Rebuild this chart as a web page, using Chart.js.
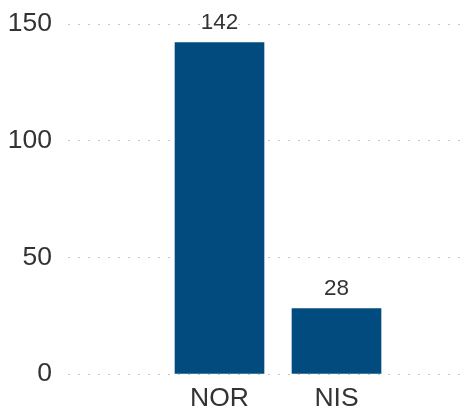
<!DOCTYPE html>
<html>
<head>
<meta charset="utf-8">
<script src="https://cdn.jsdelivr.net/npm/chart.js@4/dist/chart.umd.min.js"></script>
<style>
  html, body { margin: 0; padding: 0; background: #ffffff; }
  #wrap { width: 463px; height: 410px; position: relative; }
</style>
</head>
<body>
<div id="wrap"><canvas id="c" width="463" height="410"></canvas></div>
<script>
const categories = ['NOR', 'NIS'];
const values = [142, 28];
const yTicks = [0, 50, 100, 150];

const barColor = '#024b7e';
const textColor = '#333333';
const fontFamily = '"Liberation Sans", Arial, sans-serif';

const dataLabels = {
  id: 'dataLabels',
  afterDatasetsDraw(chart) {
    const ctx = chart.ctx;
    const meta = chart.getDatasetMeta(0);
    ctx.save();
    ctx.font = '22.5px ' + fontFamily;
    ctx.fillStyle = textColor;
    ctx.textAlign = 'center';
    ctx.textBaseline = 'alphabetic';
    meta.data.forEach((el, i) => {
      ctx.fillText(String(values[i]), el.x, el.y - 13.5);
    });
    ctx.restore();
  }
};

new Chart(document.getElementById('c'), {
  type: 'bar',
  data: {
    datasets: [{
      data: categories.map((c, i) => ({ x: i, y: values[i] })),
      backgroundColor: barColor,
      borderWidth: 0,
      barThickness: 89
    }]
  },
  options: {
    responsive: false,
    animation: false,
    layout: { padding: { top: 24, right: 0, left: 0, bottom: 0 } },
    plugins: { legend: { display: false }, tooltip: { enabled: false } },
    scales: {
      x: {
        type: 'linear',
        offset: false,
        min: -1.2949,
        max: 2.0812,
        grid: { display: false, drawTicks: false, offset: false },
        border: { display: false },
        afterBuildTicks(scale) { scale.ticks = categories.map((c, i) => ({ value: i })); },
        afterFit(scale) { scale.height = 36; scale.paddingLeft = 0; scale.paddingRight = 0; },
        ticks: {
          padding: 9,
          color: textColor,
          font: { family: fontFamily, size: 26.5 },
          callback: (v) => categories[v] ?? ''
        }
      },
      y: {
        min: 0,
        max: 150,
        afterBuildTicks(scale) { scale.ticks = yTicks.map(v => ({ value: v })); },
        afterFit(scale) { scale.width = 68; scale.paddingTop = 0; scale.paddingBottom = 0; },
        grid: { color: '#c8c8c8', lineWidth: 1, drawTicks: false },
        border: { display: false, dash: [2, 8] },
        ticks: {
          padding: 16,
          color: textColor,
          font: { family: fontFamily, size: 26.5 }
        }
      }
    }
  },
  plugins: [dataLabels]
});
</script>
</body>
</html>
